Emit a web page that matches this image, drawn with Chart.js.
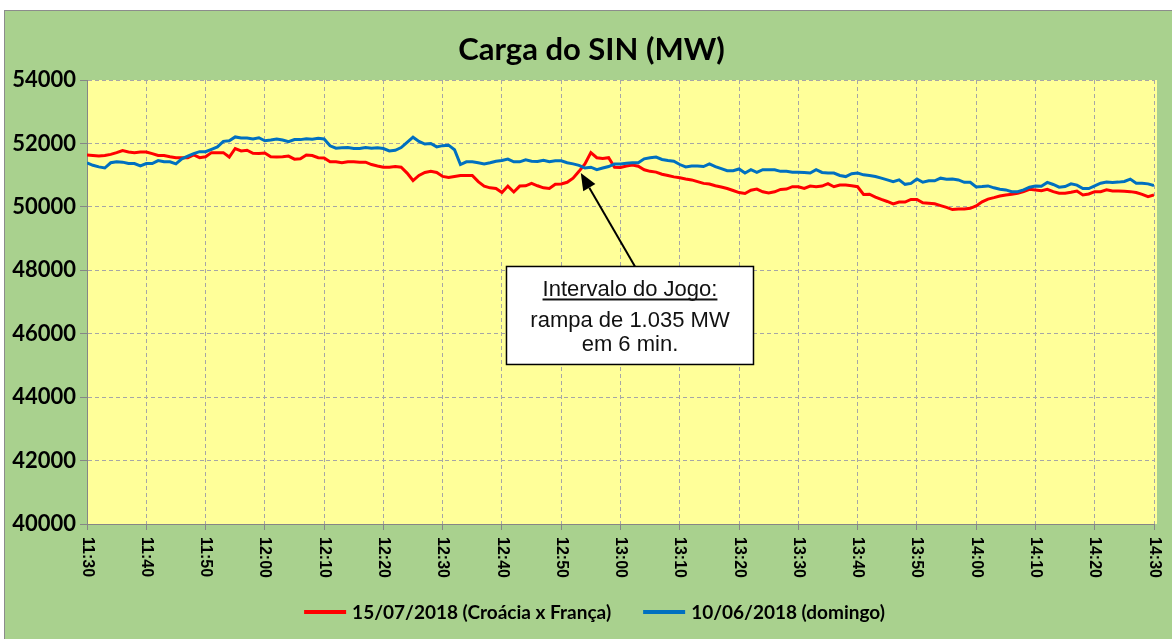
<!DOCTYPE html>
<html lang="pt-BR">
<head>
<meta charset="utf-8">
<title>Carga do SIN (MW)</title>
<script src="https://cdn.jsdelivr.net/npm/chart.js@4.4.0/dist/chart.umd.min.js"></script>
<style>
  html, body { margin: 0; padding: 0; background: #fff; }
  #moldura {
    position: absolute; left: 4px; top: 10px; width: 1167px; height: 628px;
    background: #a9d18e; border-top: 1px solid #8c8c8c; border-left: 1px solid #8c8c8c;
  }
  canvas { display: block; }
</style>
</head>
<body>
<div id="moldura"><canvas id="graficoCarga" width="1167" height="628"></canvas></div>
<script>
// rótulos do eixo x (a cada 10 min)
const horarios = ['11:30', '11:40', '11:50', '12:00', '12:10', '12:20', '12:30', '12:40', '12:50', '13:00',
                  '13:10', '13:20', '13:30', '13:40', '13:50', '14:00', '14:10', '14:20', '14:30'];

const nomesSeries = ['15/07/2018 (Croácia x França)', '10/06/2018 (domingo)'];
const coresSeries = ['#ff0000', '#0070c0'];

// carga em MW, um valor por minuto de 11:30 a 14:30
const cargaJogo = [
  51635, 51620, 51600, 51620, 51655, 51710, 51775, 51730, 51710, 51730, 51730,
  51680, 51620, 51620, 51580, 51550, 51550, 51550, 51635, 51550, 51580,
  51710, 51710, 51710, 51570, 51840, 51765, 51785, 51690, 51680, 51700,
  51580, 51570, 51580, 51600, 51505, 51515, 51635, 51620, 51550, 51540,
  51420, 51420, 51390, 51420, 51420, 51410, 51410, 51335, 51290, 51250,
  51250, 51270, 51250, 51065, 50830, 50990, 51085, 51120, 51085, 50960,
  50925, 50960, 50990, 50990, 50990, 50795, 50655, 50600, 50580, 50450,
  50655, 50470, 50655, 50665, 50740, 50665, 50600, 50580, 50710, 50720,
  50775, 50905, 51120, 51355, 51710, 51550, 51525, 51550, 51250, 51240,
  51290, 51320, 51280, 51170, 51120, 51095, 51030, 50990, 50945, 50915,
  50880, 50850, 50795, 50740, 50720, 50665, 50625, 50580, 50515, 50450,
  50420, 50525, 50560, 50475, 50440, 50475, 50550, 50560, 50635, 50635,
  50580, 50655, 50635, 50655, 50730, 50635, 50690, 50690, 50665, 50635,
  50390, 50400, 50310, 50235, 50170, 50095, 50150, 50150, 50235, 50235,
  50130, 50115, 50095, 50040, 49985, 49915, 49935, 49935, 49955, 50030,
  50160, 50245, 50290, 50340, 50375, 50395, 50430, 50480, 50555, 50535,
  50510, 50555, 50480, 50430, 50430, 50460, 50500, 50375, 50405, 50480,
  50480, 50535, 50500, 50500, 50490, 50480, 50450, 50395, 50320, 50375
];

const cargaDomingo = [
  51390, 51310, 51260, 51225, 51390, 51420, 51410, 51365, 51365, 51290, 51365,
  51365, 51460, 51420, 51420, 51355, 51515, 51600, 51680, 51740, 51740,
  51815, 51890, 52065, 52085, 52205, 52170, 52170, 52140, 52180, 52085,
  52110, 52140, 52110, 52055, 52120, 52120, 52150, 52130, 52160, 52140,
  51925, 51850, 51860, 51870, 51840, 51840, 51870, 51850, 51860, 51840,
  51765, 51785, 51870, 52030, 52195, 52065, 51980, 52000, 51890, 51930,
  51945, 51800, 51335, 51420, 51420, 51390, 51355, 51390, 51440, 51460,
  51505, 51420, 51420, 51485, 51440, 51430, 51470, 51420, 51450, 51450,
  51390, 51355, 51310, 51225, 51250, 51170, 51225, 51270, 51355, 51355,
  51375, 51390, 51390, 51515, 51550, 51570, 51495, 51460, 51440, 51335,
  51260, 51290, 51290, 51270, 51355, 51270, 51205, 51140, 51140, 51195,
  51065, 51170, 51085, 51170, 51170, 51170, 51120, 51120, 51095, 51095,
  51085, 51065, 51170, 51085, 51065, 51065, 50990, 50955, 51045, 51065,
  51010, 50990, 50955, 50905, 50850, 50795, 50850, 50710, 50740, 50880,
  50775, 50820, 50820, 50905, 50870, 50880, 50850, 50775, 50775, 50625,
  50640, 50660, 50600, 50555, 50535, 50480, 50480, 50535, 50620, 50660,
  50650, 50770, 50705, 50620, 50640, 50725, 50685, 50575, 50575, 50660,
  50745, 50780, 50770, 50780, 50800, 50875, 50745, 50745, 50725, 50670
];

// caixa de texto e seta (em minutos desde 11:30 / MW)
const textoCaixa = ['Intervalo do Jogo:', 'rampa de 1.035 MW', 'em 6 min.'];
const pontaSeta = { minuto: 83.3, carga: 51070 };
const centroCaixa = { minuto: 91.6, carga: 46575 };

document.addEventListener('DOMContentLoaded', function () {
    const ctx = document.getElementById('graficoCarga').getContext('2d');

    const fundoPlot = {
        id: 'fundoPlot',
        beforeDraw(chart) {
            const { ctx, chartArea: a } = chart;
            ctx.save();
            ctx.fillStyle = '#ffff99';
            ctx.fillRect(a.left, a.top, a.right - a.left + 3, a.bottom - a.top);
            ctx.restore();
        }
    };

    const extras = {
        id: 'extras',
        afterDraw(chart) {
            const { ctx } = chart;
            const sx = chart.scales.x;
            const sy = chart.scales.y;
            ctx.save();
            ctx.fillStyle = '#000';

            // título
            ctx.font = 'bold 31px Lato, sans-serif';
            ctx.textAlign = 'center';
            ctx.textBaseline = 'alphabetic';
            ctx.fillText('Carga do SIN (MW)', chart.width / 2 + 3, 49);

            // rótulos do eixo x, girados
            ctx.font = 'bold 16px "Liberation Sans", Arial, sans-serif';
            ctx.textAlign = 'left';
            ctx.textBaseline = 'middle';
            horarios.forEach((h, i) => {
                ctx.save();
                ctx.translate(sx.getPixelForValue(i * 10), sx.top + 13);
                ctx.rotate(Math.PI / 2);
                ctx.fillText(h, 0, 0);
                ctx.restore();
            });

            // legenda
            ctx.font = 'bold 19px Lato, sans-serif';
            const amostra = 42, folga = 6, entre = 32;
            const itens = chart.data.datasets.map(ds => ({
                label: ds.label, cor: ds.borderColor, w: ctx.measureText(ds.label).width
            }));
            const total = itens.reduce((s, it) => s + amostra + folga + it.w, 0) + entre * (itens.length - 1);
            let lx = chart.width / 2 + 6 - total / 2;
            const ly = 601;
            itens.forEach(it => {
                ctx.strokeStyle = it.cor;
                ctx.lineWidth = 4;
                ctx.beginPath();
                ctx.moveTo(lx, ly);
                ctx.lineTo(lx + amostra, ly);
                ctx.stroke();
                ctx.fillStyle = '#000';
                ctx.fillText(it.label, lx + amostra + folga, ly + 1);
                lx += amostra + folga + it.w + entre;
            });

            // caixa do intervalo
            const cx = sx.getPixelForValue(centroCaixa.minuto);
            const cy = sy.getPixelForValue(centroCaixa.carga);
            const bw = 247, bh = 98;
            const bx = cx - bw / 2, by = cy - bh / 2;
            const tx = sx.getPixelForValue(pontaSeta.minuto);
            const ty = sy.getPixelForValue(pontaSeta.carga);

            // seta
            const ox = cx + 5, oy = by;
            const ang = Math.atan2(ty - oy, tx - ox);
            const comp = 17, larg = 7;
            const bxs = tx - comp * Math.cos(ang), bys = ty - comp * Math.sin(ang);
            ctx.strokeStyle = '#000';
            ctx.lineWidth = 2;
            ctx.beginPath();
            ctx.moveTo(ox, oy);
            ctx.lineTo(bxs, bys);
            ctx.stroke();
            ctx.beginPath();
            ctx.moveTo(tx, ty);
            ctx.lineTo(bxs + larg * Math.sin(ang), bys - larg * Math.cos(ang));
            ctx.lineTo(bxs - larg * Math.sin(ang), bys + larg * Math.cos(ang));
            ctx.closePath();
            ctx.fill();

            ctx.fillStyle = '#fff';
            ctx.fillRect(bx, by, bw, bh);
            ctx.lineWidth = 1.5;
            ctx.strokeRect(bx, by, bw, bh);

            ctx.fillStyle = '#111';
            ctx.font = '22px "Liberation Sans", Arial, sans-serif';
            ctx.textAlign = 'center';
            ctx.textBaseline = 'alphabetic';
            ctx.fillText(textoCaixa[0], cx, by + 30);
            const wSub = ctx.measureText(textoCaixa[0]).width;
            ctx.fillRect(cx - wSub / 2, by + 32, wSub, 2);
            ctx.fillText(textoCaixa[1], cx, by + 61);
            ctx.fillText(textoCaixa[2], cx, by + 85);

            ctx.restore();
        }
    };

    new Chart(ctx, {
        type: 'line',
        data: {
            datasets: [
                {
                    label: nomesSeries[0],
                    data: cargaJogo.map((v, i) => ({ x: i, y: v })),
                    borderColor: coresSeries[0],
                    borderWidth: 3,
                    pointRadius: 0,
                    tension: 0,
                    order: 2
                },
                {
                    label: nomesSeries[1],
                    data: cargaDomingo.map((v, i) => ({ x: i, y: v })),
                    borderColor: coresSeries[1],
                    borderWidth: 3,
                    pointRadius: 0,
                    tension: 0,
                    order: 1
                }
            ]
        },
        options: {
            responsive: false,
            animation: false,
            layout: { padding: { top: 69, right: 18, left: 0, bottom: 0 } },
            plugins: {
                legend: { display: false },
                title: { display: false },
                tooltip: { enabled: false }
            },
            scales: {
                x: {
                    type: 'linear',
                    min: 0,
                    max: 180,
                    afterFit: s => { s.height = 115; },
                    ticks: { display: false, stepSize: 10 },
                    grid: { color: '#a6a6a6', tickLength: 6, tickColor: '#868686', tickBorderDash: [] },
                    border: { color: '#868686', dash: [4, 3] }
                },
                y: {
                    min: 40000,
                    max: 54000,
                    afterFit: s => { s.width = 82; },
                    ticks: {
                        stepSize: 2000,
                        color: '#000',
                        padding: 4,
                        callback: v => String(v),
                        font: { family: 'Lato, sans-serif', size: 22, weight: 'bold' }
                    },
                    grid: { color: '#a6a6a6', tickLength: 7, tickColor: '#868686', tickBorderDash: [] },
                    border: { color: '#868686', dash: [4, 3] }
                }
            }
        },
        plugins: [fundoPlot, extras]
    });
});
</script>
</body>
</html>
